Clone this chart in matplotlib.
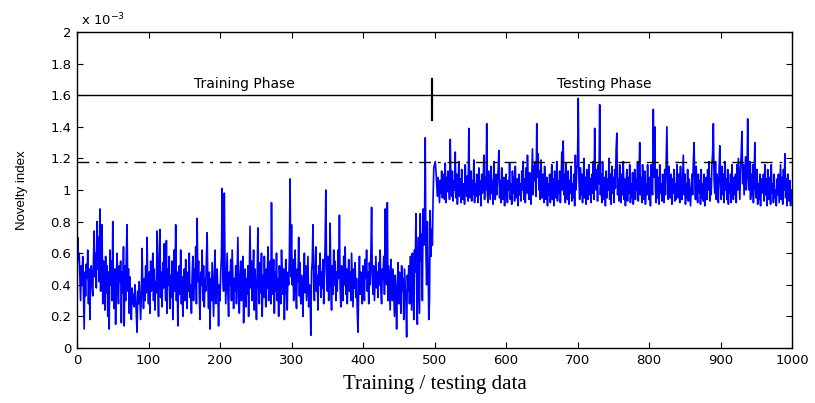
import numpy as np
import matplotlib
matplotlib.use("Agg")
import matplotlib.pyplot as plt
from matplotlib.ticker import FuncFormatter

# novelty index, in units of 1e-5 (one value per sample)
training = [
    38, 70, 55, 60, 45, 30, 52, 40, 58, 35, 12, 48, 33, 53, 44, 62, 28, 50, 18, 47,
    52, 40, 33, 56, 74, 45, 60, 38, 80, 50, 70, 42, 88, 36, 62, 78, 28, 55, 46, 24,
    58, 35, 52, 20, 48, 12, 62, 40, 55, 30, 80, 34, 25, 50, 15, 45, 60, 38, 28, 52,
    42, 55, 16, 48, 35, 64, 14, 52, 30, 60, 78, 36, 50, 22, 45, 30, 18, 38, 28, 34,
    26, 40, 33, 20, 10, 36, 28, 42, 30, 18, 34, 63, 38, 25, 44, 30, 52, 35, 70, 40,
    28, 48, 22, 55, 36, 44, 60, 30, 50, 24, 42, 35, 74, 40, 20, 58, 75, 32, 48, 26,
    54, 38, 66, 45, 30, 68, 22, 50, 40, 58, 25, 46, 32, 55, 18, 42, 62, 36, 78, 30,
    48, 14, 40, 52, 34, 62, 28, 45, 20, 38, 50, 30, 56, 44, 25, 48, 36, 60, 32, 40,
    22, 46, 58, 30, 50, 38, 64, 28, 82, 42, 55, 34, 18, 48, 40, 62, 30, 52, 26, 44,
    36, 58, 73, 40, 25, 48, 12, 44, 30, 54, 36, 20, 46, 62, 28, 38, 50, 34, 14, 40,
    30, 48, 58, 101, 45, 36, 98, 52, 28, 44, 60, 35, 20, 48, 40, 56, 30, 62, 42, 25,
    44, 36, 52, 28, 48, 70, 34, 22, 46, 55, 30, 40, 58, 16, 38, 50, 26, 44, 34, 52,
    20, 48, 77, 38, 55, 30, 44, 62, 24, 50, 36, 18, 46, 76, 40, 28, 54, 35, 60, 20,
    46, 32, 58, 40, 26, 50, 38, 64, 30, 44, 55, 28, 92, 42, 34, 56, 22, 48, 36, 60,
    30, 44, 20, 52, 38, 28, 62, 46, 34, 50, 18, 42, 56, 36, 24, 48, 40, 58, 107, 45,
    78, 40, 56, 30, 48, 62, 36, 25, 50, 42, 70, 33, 54, 28, 46, 38, 20, 44, 60, 35,
    52, 30, 44, 58, 26, 40, 34, 8, 48, 55, 78, 42, 30, 50, 64, 36, 46, 24, 52, 40,
    60, 32, 48, 38, 56, 28, 44, 66, 100, 50, 36, 58, 30, 46, 79, 40, 24, 52, 34, 62,
    40, 55, 30, 48, 36, 62, 44, 84, 38, 26, 52, 46, 30, 58, 40, 64, 34, 50, 28, 44,
    56, 36, 48, 30, 60, 42, 26, 50, 38, 54, 32, 44, 22, 10, 40, 58, 34, 48, 36, 28,
    52, 40, 30, 56, 44, 62, 36, 48, 28, 54, 40, 60, 89, 46, 34, 52, 30, 44, 58, 38,
    48, 32, 54, 40, 62, 36, 28, 50, 44, 58, 34, 88, 46, 40, 92, 30, 52, 38, 24, 56,
    44, 30, 50, 36, 20, 46, 34, 12, 40, 54, 28, 48, 38, 22, 52, 36, 44, 18, 50, 40,
    30, 7, 46, 36, 52, 28, 58, 40, 24, 60, 44, 18, 62, 48, 85, 38, 15, 70, 46, 22,
    85, 55, 72, 30, 88, 65, 78, 133, 60, 40, 80, 55, 18, 30, 87, 58, 75, 65, 95, 114,
]
testing = [
    116, 118, 112, 104, 96, 108, 100, 92, 106, 98, 112, 95, 110, 100, 94, 117, 92, 108, 99, 112,
    102, 94, 132, 104, 96, 112, 93, 106, 100, 124, 95, 110, 91, 102, 118, 96, 107, 92, 113, 100,
    94, 104, 91, 116, 100, 96, 109, 93, 139, 104, 95, 112, 93, 106, 97, 119, 92, 104, 96, 110,
    100, 92, 114, 97, 106, 90, 110, 98, 104, 122, 94, 108, 100, 142, 97, 92, 112, 103, 94, 115,
    98, 106, 91, 118, 100, 94, 110, 97, 104, 113, 125, 95, 106, 92, 114, 100, 94, 108, 90, 104,
    110, 97, 92, 106, 100, 117, 94, 104, 91, 112, 98, 108, 93, 115, 100, 95, 107, 90, 110, 97,
    104, 93, 112, 100, 118, 94, 107, 92, 114, 98, 122, 104, 94, 111, 100, 91, 108, 126, 97, 115,
    106, 118, 96, 142, 108, 123, 100, 112, 94, 119, 103, 95, 110, 92, 115, 100, 94, 108, 90, 104,
    97, 110, 92, 102, 116, 94, 107, 90, 112, 100, 95, 118, 93, 106, 98, 112, 92, 104, 124, 100,
    131, 97, 110, 92, 117, 100, 94, 112, 91, 106, 98, 115, 93, 104, 95, 110, 90, 122, 100, 113,
    116, 158, 106, 94, 114, 97, 110, 92, 104, 120, 95, 108, 91, 113, 100, 94, 116, 97, 107, 92,
    110, 98, 118, 94, 139, 106, 100, 113, 93, 116, 104, 154, 97, 110, 92, 118, 100, 94, 108, 90,
    112, 95, 107, 100, 120, 94, 110, 91, 115, 98, 108, 92, 113, 101, 126, 136, 97, 107, 93, 116,
    100, 92, 110, 97, 118, 94, 107, 90, 104, 113, 93, 108, 98, 116, 92, 104, 95, 111, 91, 100,
    113, 94, 107, 100, 118, 93, 110, 130, 97, 108, 92, 116, 100, 94, 112, 91, 104, 97, 116, 100,
    94, 108, 90, 116, 100, 97, 151, 108, 140, 100, 92, 113, 95, 108, 91, 116, 98, 104, 93, 110,
    100, 92, 113, 97, 118, 140, 106, 94, 115, 100, 95, 110, 91, 107, 98, 113, 93, 104, 94, 116,
    107, 95, 110, 92, 115, 100, 94, 108, 122, 97, 110, 91, 104, 95, 113, 93, 107, 98, 90, 100,
    110, 97, 118, 130, 107, 94, 115, 100, 92, 110, 98, 106, 91, 113, 95, 104, 93, 110, 90, 100,
    108, 94, 113, 100, 118, 93, 107, 97, 116, 124, 142, 106, 98, 118, 94, 110, 100, 92, 113, 128,
    104, 94, 115, 97, 110, 92, 118, 100, 107, 94, 113, 91, 104, 98, 110, 92, 116, 100, 94, 108,
    97, 110, 92, 116, 100, 120, 107, 94, 113, 124, 137, 104, 116, 97, 110, 121, 100, 107, 145, 112,
    100, 118, 94, 110, 97, 116, 92, 107, 130, 100, 95, 113, 91, 104, 94, 110, 90, 107, 98, 100,
    110, 93, 116, 97, 107, 90, 113, 100, 94, 108, 91, 116, 98, 104, 92, 110, 95, 100, 90, 107,
    97, 110, 92, 104, 116, 94, 108, 91, 113, 100, 123, 95, 107, 90, 110, 97, 93, 106, 90, 100,
]
threshold = 1.177      # x 1e-3, dash-dot line
phase_level = 1.6      # x 1e-3, line under the phase labels
split_at = 496

novelty = np.array(training + testing) / 100.0   # now in units of 1e-3
samples = np.arange(len(novelty))

fig = plt.figure(figsize=(8.15, 4.03), dpi=100)
ax = fig.add_axes([0.0945, 0.1365, 0.8773, 0.7841])

ax.plot(samples, novelty, color="#0000ff", lw=1.2)
ax.axhline(threshold, color="k", lw=1.0, dashes=(8.5, 5, 2, 5))
ax.axhline(phase_level, color="k", lw=1.0)
ax.plot([split_at, split_at], [1.44, 1.70], color="k", lw=1.6)

ax.text(234, 1.625, "Training Phase", ha="center", va="bottom",
        fontsize=10, family="DejaVu Sans")
ax.text(737, 1.625, "Testing Phase", ha="center", va="bottom",
        fontsize=10, family="DejaVu Sans")

ax.set_xlim(0, 1000)
ax.set_ylim(0, 2)
ax.set_xticks(np.arange(0, 1001, 100))
ax.set_yticks(np.arange(0, 2.01, 0.2))
ax.yaxis.set_major_formatter(FuncFormatter(lambda v, p: "%g" % round(v, 1)))
ax.tick_params(direction="in", top=True, right=True, length=4, width=0.8,
               labelsize=9.5, pad=4)
for lab in ax.get_xticklabels() + ax.get_yticklabels():
    lab.set_family("DejaVu Sans")
for s in ax.spines.values():
    s.set_linewidth(1.0)

ax.text(0.005, 1.012, r"x 10$^{\mathregular{-3}}$", transform=ax.transAxes,
        ha="left", va="bottom", fontsize=9.5, family="DejaVu Sans")
ax.set_ylabel("Novelty index", fontsize=9.5,
              family=["Liberation Sans Narrow", "Liberation Sans"], labelpad=16)
ax.set_xlabel("Training / testing data", fontsize=15,
              family="Liberation Serif", labelpad=6)

fig.savefig("out.png", dpi=100)
